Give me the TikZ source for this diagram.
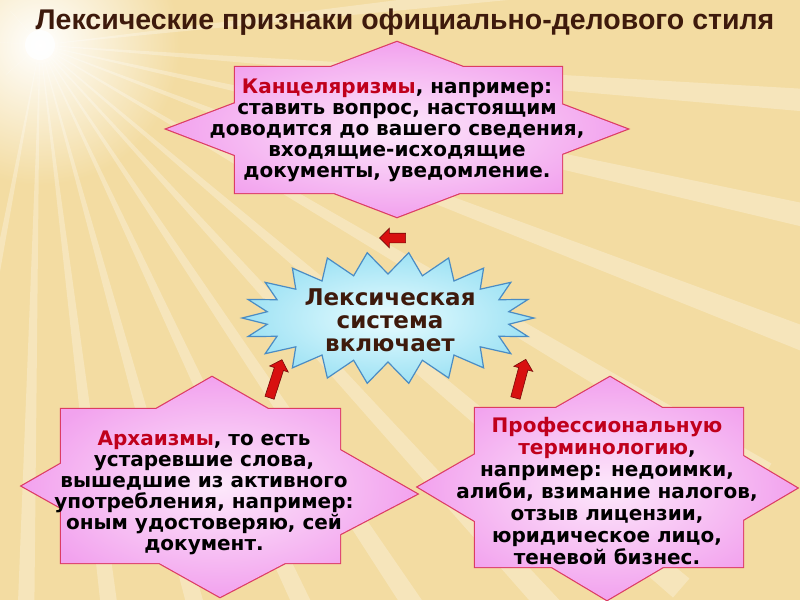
\documentclass[tikz,border=0pt]{standalone}
\usepackage{fontspec}
\setmainfont{DejaVu Sans}
\newfontfamily\titlefont{Liberation Sans}
\usepackage{tikz}
\usetikzlibrary{shapes.arrows,positioning,calc}
\definecolor{bgsand}{HTML}{F3DCA2}
\definecolor{starpink}{HTML}{F2A2EE}
\definecolor{lightpink}{HTML}{FDE8FB}
\definecolor{starline}{HTML}{DC3C64}
\definecolor{wordred}{HTML}{C0001C}
\definecolor{skycyan}{HTML}{9EE2F4}
\definecolor{skylight}{HTML}{E8FCFF}
\definecolor{skyline}{HTML}{4A8CC4}
\definecolor{darkbrown}{HTML}{3E1A0C}
\definecolor{arrowred}{HTML}{D81010}

\begin{document}
\begin{tikzpicture}[x=1pt,y=-1pt,
  pinkstar/.style={preaction={draw=starline,line width=2.4pt},
                   inner color=lightpink,outer color=starpink},
  burst/.style={draw=skyline,line width=1.2pt,inner color=skylight,outer color=skycyan},
  txt/.style={font=\bfseries\fontsize{20}{21}\selectfont,align=center,inner sep=0pt},
  blockarrow/.style={single arrow,fill=arrowred,draw=arrowred!55!black,line width=0.6pt,
                     single arrow head extend=5pt,inner sep=4.5pt}
]
\useasboundingbox (0,0) rectangle (800,600);
\begin{scope}
\clip (0,0) rectangle (800,600);
\fill[bgsand] (0,0) rectangle (800,600);
\shade[inner color=white,outer color=bgsand] (40,45) circle (140);
\foreach \a in {-4,6,14,22,31,40,47,55,63,72,80,88,97}
  \fill[white,opacity=0.28] (40,45) -- (\a:900) -- (\a+1.6:900) -- cycle;
\foreach \a in {0,45,90,135}
  \fill[white,opacity=0.7] (40,45) -- ++(\a+4:45) -- ++(\a+184:90) -- cycle;
\fill[white,opacity=0.85] (40,45) circle (15);
\end{scope}

\node[font=\titlefont\bfseries\fontsize{28.5}{32}\selectfont,text=darkbrown] (title) at (405,22)
  {Лексические признаки официально-делового стиля};

\shade[pinkstar] (235,67) -- (562,67) -- (562,193) -- (235,193) -- cycle
  (397,42) -- (627,129) -- (397,217) -- (167,129) -- cycle;
\shade[pinkstar] (61,409) -- (340,409) -- (340,563) -- (61,563) -- cycle
  (212,377) -- (417,494) -- (220,597) -- (22,486) -- cycle;
\shade[pinkstar] (475,408) -- (743,408) -- (743,567) -- (475,567) -- cycle
  (610,377) -- (797,488) -- (607,600) -- (418,487) -- cycle;
\shade[burst] plot[domain=0:43,samples=44]
  ({388+cos(\x*360/44)*(146-24*mod(\x,2))},{318+sin(\x*360/44)*(66-22*mod(\x,2))}) -- cycle;

\node[txt] (kanc) at (397,130)
  {\textcolor{wordred}{Канцеляризмы}, например:\\
   ставить вопрос, настоящим\\
   доводится до вашего сведения,\\
   входящие-исходящие\\
   документы, уведомление.};
\node[txt] (arch) at (204,493)
  {\textcolor{wordred}{Архаизмы}, то есть\\
   устаревшие слова,\\
   вышедшие из активного\\
   употребления, например:\\
   оным удостоверяю, сей\\
   документ.};
\node[txt,font=\bfseries\fontsize{20}{22}\selectfont] (prof) at (607,491)
  {\textcolor{wordred}{Профессиональную}\\
   \textcolor{wordred}{терминологию},\\
   например: недоимки,\\
   алиби, взимание налогов,\\
   отзыв лицензии,\\
   юридическое лицо,\\
   теневой бизнес.};
\node[txt,font=\bfseries\fontsize{23}{23}\selectfont,text=darkbrown] (lex) at (390,320)
  {Лексическая\\система\\включает};

\node[blockarrow,rotate=180,minimum height=26pt] (arrtop) at (395,238) {};
\node[blockarrow,rotate=72,minimum height=40pt] (arrleft) at (275,381) {};
\node[blockarrow,rotate=75,minimum height=40pt] (arrright) at (520,381) {};
\end{tikzpicture}
\end{document}
